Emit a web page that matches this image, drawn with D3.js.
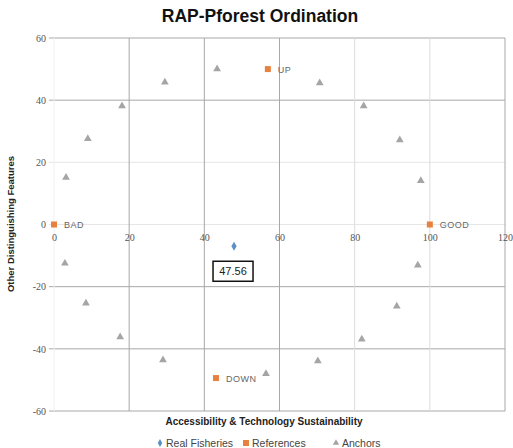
<!DOCTYPE html>
<html><head><meta charset="utf-8">
<script src="https://cdn.jsdelivr.net/npm/d3@7"></script>
<style>body{margin:0;background:#fff;font-family:"Liberation Sans",Arial,sans-serif;}</style>
</head><body>
<svg id="c" width="513" height="448"></svg>
<script>
const title = "RAP-Pforest Ordination";
const xTitle = "Accessibility & Technology Sustainability";
const yTitle = "Other Distinguishing Features";
const xTicks = [0, 20, 40, 60, 80, 100, 120];
const yTicks = [-60, -40, -20, 0, 20, 40, 60];
const realX = [47.9];
const realY = [-7];
const realLabels = ["47.56"];
const refNames = ["BAD", "GOOD", "UP", "DOWN"];
const refX = [0, 100, 56.9, 43.1];
const refY = [0, 0, 50, -49.4];
const anchorX = [43.4, 29.5, 18.1, 9.0, 3.2, 2.9, 8.5, 17.6, 29.0, 56.4, 70.2, 81.9, 91.2, 96.8, 97.6, 92.0, 82.4, 70.7];
const anchorY = [50, 45.8, 38.1, 27.6, 15.1, -12.5, -25.3, -36.2, -43.6, -48, -43.9, -36.9, -26.3, -13.1, 14.1, 27.2, 38.1, 45.5];
const legendNames = ["Real Fisheries", "References", "Anchors"];

const svg = d3.select("#c");
const x = d3.scaleLinear().domain([0, 120]).range([54, 505]);
const y = d3.scaleLinear().domain([-60, 60]).range([411, 38]);

// gridlines
const hGrid = svg.append("g");
hGrid.selectAll("line").data(yTicks).enter().append("line")
  .attr("x1", 49).attr("x2", x(120))
  .attr("y1", d => y(d)).attr("y2", d => y(d))
  .attr("stroke", d => (d === 0 || d === 20) ? "#e6e6e6" : "#a8a8a8").attr("stroke-width", 1);
const vGrid = svg.append("g");
vGrid.selectAll("line").data(xTicks).enter().append("line")
  .attr("x1", d => x(d)).attr("x2", d => x(d))
  .attr("y1", y(60)).attr("y2", y(-60))
  .attr("stroke", d => d === 0 ? "#f0f0f0" : (d === 80 || d === 100) ? "#dcdcdc" : "#a8a8a8").attr("stroke-width", 1);

// axes via d3 axis (labels only)
const yAxis = svg.append("g").attr("transform", "translate(48,0)")
  .call(d3.axisLeft(y).tickValues(yTicks).tickSize(0).tickPadding(2).tickFormat(d => d));
yAxis.select(".domain").remove();
yAxis.selectAll("text").attr("font-size", 10).attr("fill", "#555").attr("font-family", "Liberation Serif, serif");

const xAxis = svg.append("g").attr("transform", `translate(0,${y(0)+9})`)
  .call(d3.axisBottom(x).tickValues(xTicks).tickSize(0).tickPadding(0).tickFormat(d => d));
xAxis.select(".domain").remove();
xAxis.selectAll("text").attr("font-size", 10).attr("fill", "#555").attr("font-family", "Liberation Serif, serif");

// anchors
const tri = d3.symbol().type(d3.symbolTriangle).size(26);
svg.append("g").selectAll("path").data(anchorX.map((v, i) => [v, anchorY[i]])).enter().append("path")
  .attr("d", tri).attr("transform", d => `translate(${x(d[0])},${y(d[1])})`)
  .attr("fill", "#a5a5a5");

// references
const refG = svg.append("g");
refNames.forEach((n, i) => {
  refG.append("rect").attr("x", x(refX[i]) - 3).attr("y", y(refY[i]) - 3).attr("width", 6).attr("height", 6).attr("fill", "#e8803f");
  refG.append("text").attr("x", x(refX[i]) + 10).attr("y", y(refY[i]) + 3.5)
    .attr("font-size", 9).attr("fill", "#666").attr("letter-spacing", 0.5).text(n);
});

// real fisheries
const dia = d3.symbol().type(d3.symbolDiamond).size(24);
realX.forEach((v, i) => {
  svg.append("path").attr("d", dia).attr("transform", `translate(${x(v)},${y(realY[i])})`).attr("fill", "#5b8fc7");
  const lx = x(v) - 1, ly = y(realY[i]) + 25;
  svg.append("rect").attr("x", lx - 20).attr("y", ly - 10).attr("width", 40).attr("height", 20)
    .attr("fill", "#fff").attr("stroke", "#111").attr("stroke-width", 1.5);
  svg.append("text").attr("x", lx).attr("y", ly + 4).attr("text-anchor", "middle")
    .attr("font-size", 11).attr("fill", "#222").text(realLabels[i]);
});

// title
svg.append("text").attr("x", 260).attr("y", 22).attr("text-anchor", "middle")
  .attr("font-size", 17.5).attr("font-weight", "bold").attr("fill", "#111").text(title);
svg.append("text").attr("x", 264).attr("y", 425).attr("text-anchor", "middle")
  .attr("font-size", 10).attr("font-weight", "bold").attr("fill", "#222").text(xTitle);
svg.append("text").attr("transform", "translate(14,224) rotate(-90)").attr("text-anchor", "middle")
  .attr("font-size", 9.5).attr("font-weight", "bold").attr("fill", "#222").text(yTitle);

// legend
const lg = svg.append("g");
const lx0 = [160, 246, 336];
legendNames.forEach((n, i) => {
  const cx = lx0[i], cy = 443;
  if (i === 0) lg.append("path").attr("d", d3.symbol().type(d3.symbolDiamond).size(18)).attr("transform", `translate(${cx},${cy})`).attr("fill", "#5b8fc7");
  if (i === 1) lg.append("rect").attr("x", cx - 3).attr("y", cy - 3).attr("width", 6).attr("height", 6).attr("fill", "#e8803f");
  if (i === 2) lg.append("path").attr("d", d3.symbol().type(d3.symbolTriangle).size(18)).attr("transform", `translate(${cx},${cy})`).attr("fill", "#a5a5a5");
  lg.append("text").attr("x", cx + 6).attr("y", cy + 4).attr("font-size", 10.5).attr("fill", "#444").text(n);
});
</script>
</body></html>
